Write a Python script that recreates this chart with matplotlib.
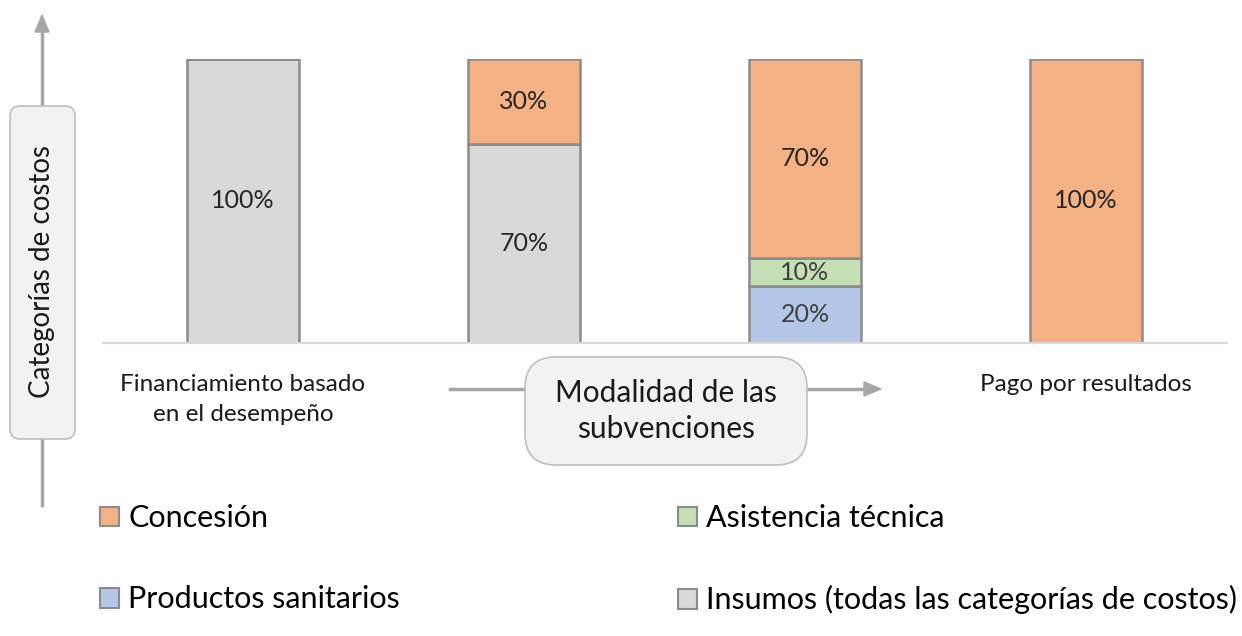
import matplotlib.pyplot as plt
from matplotlib.patches import FancyBboxPatch, Patch

plt.rcParams['font.family'] = ['Lato', 'DejaVu Sans']

# data
categories = ['Financiamiento basado\nen el desempeño', '', '', 'Pago por resultados']
insumos = [100, 70, 0, 0]
productos = [0, 0, 20, 0]
asistencia = [0, 0, 10, 0]
concesion = [0, 30, 70, 100]

series = [
    ('Insumos (todas las categorías de costos)', insumos, '#D9D9D9', '#262626'),
    ('Productos sanitarios', productos, '#B4C7E7', '#404040'),
    ('Asistencia técnica', asistencia, '#C5E0B4', '#404040'),
    ('Concesión', concesion, '#F4B183', '#262626'),
]

fig = plt.figure(figsize=(12.42, 6.36), dpi=100)
W, H = 1242, 636
ax = fig.add_axes([102.5 / W, (H - 343) / H, 1124 / W, 284 / H])

x = list(range(len(categories)))
bottom = [0] * len(categories)
for name, vals, color, tcolor in series:
    bars = ax.bar(x, vals, width=0.40, bottom=bottom, color=color,
                  edgecolor='#8C8C8C', linewidth=1.8)
    for i, v in enumerate(vals):
        if v > 0:
            ax.text(x[i], bottom[i] + v / 2, '{}%'.format(v), ha='center',
                    va='center', fontsize=18, color=tcolor)
    bottom = [b + v for b, v in zip(bottom, vals)]

ax.set_xlim(-0.5, 3.5)
ax.set_ylim(0, 100)
for s in ['top', 'right', 'left']:
    ax.spines[s].set_visible(False)
ax.spines['bottom'].set_color('#D9D9D9')
ax.spines['bottom'].set_linewidth(1.5)
ax.set_yticks([])
ax.set_xticks(x)
ax.set_xticklabels(categories, fontsize=17.5, color='#1a1a1a',
                   linespacing=1.55)
ax.tick_params(axis='x', length=0, pad=22)


def px(xp, yp):
    return xp / W, 1 - yp / H


# horizontal arrow with box
fig.add_artist(plt.Line2D([px(450, 0)[0], px(868, 0)[0]],
                          [px(0, 389)[1]] * 2, color='#A6A6A6', lw=2.5,
                          zorder=1))
fig.patches.append(plt.Polygon([px(864, 382), px(881, 389), px(864, 396)],
                               closed=True, color='#A6A6A6', zorder=1,
                               transform=fig.transFigure, figure=fig))
x0, y0 = px(525, 465)
x1, y1 = px(807, 357)
fig.patches.append(FancyBboxPatch((x0, y0), x1 - x0, y1 - y0,
                                  boxstyle='round,pad=0,rounding_size=0.025',
                                  facecolor='#F2F2F2', edgecolor='#BFBFBF',
                                  lw=1.2, transform=fig.transFigure, zorder=3,
                                  figure=fig, mutation_aspect=W / H))
fig.text(*px(666, 411), 'Modalidad de las\nsubvenciones', ha='center',
         va='center', fontsize=21.5, color='#1a1a1a', linespacing=1.35,
         zorder=4)

# vertical arrow with box
fig.add_artist(plt.Line2D([px(42, 0)[0]] * 2, [px(0, 505)[1], px(0, 30)[1]],
                          color='#A6A6A6', lw=2.5, zorder=1))
fig.patches.append(plt.Polygon([px(35, 32), px(42, 15), px(49, 32)],
                               closed=True, color='#A6A6A6', zorder=1,
                               transform=fig.transFigure, figure=fig))
x0, y0 = px(10, 439)
x1, y1 = px(75, 106)
fig.patches.append(FancyBboxPatch((x0, y0), x1 - x0, y1 - y0,
                                  boxstyle='round,pad=0,rounding_size=0.008',
                                  facecolor='#F2F2F2', edgecolor='#BFBFBF',
                                  lw=1.2, transform=fig.transFigure, zorder=3,
                                  figure=fig, mutation_aspect=W / H))
fig.text(*px(42, 272), 'Categorías de costos', ha='center', va='center',
         rotation=90, fontsize=20, color='#1a1a1a', zorder=4)

# legend
order = [3, 1, 2, 0]
handles = [Patch(facecolor=series[i][2], edgecolor='#8C8C8C', lw=1.5,
                 label=series[i][0]) for i in order]
fig.legend(handles=handles, ncol=2, loc='upper left',
           bbox_to_anchor=px(88, 492), frameon=False, fontsize=22,
           borderaxespad=0, handlelength=0.62, handleheight=0.62,
           handletextpad=0.3, labelspacing=1.74, columnspacing=9.1)

fig.savefig('out.png', dpi=100)
